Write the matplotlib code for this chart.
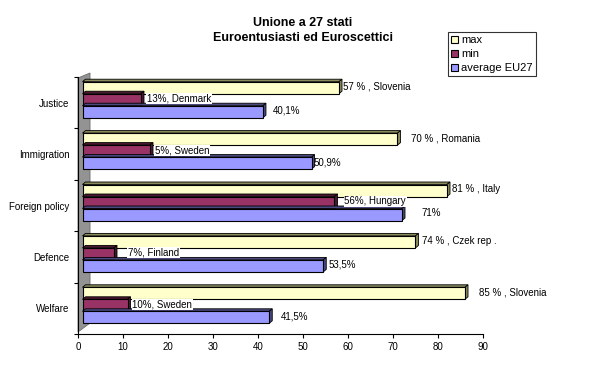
import matplotlib
matplotlib.use("Agg")
import matplotlib.pyplot as plt
from matplotlib.patches import Polygon, Patch
from matplotlib.transforms import ScaledTranslation

# ---- data ----
categories = ["Justice", "Immigration", "Foreign policy", "Defence", "Welfare"]
max_vals = [57, 70, 81, 74, 85]
min_vals = [13, 15, 56, 7, 10]
avg_vals = [40.1, 50.9, 71, 53.5, 41.5]
max_labels = ["57 % , Slovenia", "70 % , Romania", "81 % , Italy", "74 % , Czek rep .", "85 % , Slovenia"]
min_labels = ["13%, Denmark", "5%, Sweden", "56%, Hungary", "7%, Finland", "10%, Sweden"]
avg_labels = ["40,1%", "50,9%", "71%", "53,5%", "41,5%"]
series_names = ["max", "min", "average EU27"]
x_ticks = [0, 10, 20, 30, 40, 50, 60, 70, 80, 90]

# ---- style ----
colors = ["#FFFFCC", "#993366", "#9999FF"]
side_colors = ["#8a8a5c", "#4a1830", "#4a4a80"]
label_dx_px = [[4, 14, 5, 7, 14], [6, 5, 10, 14, 5], [10, 2, 19, 5, 12]]
FONT = "Liberation Sans"
plt.rcParams["font.family"] = [FONT, "DejaVu Sans"]

W, H, DPI = 601, 373, 100
fig = plt.figure(figsize=(W / DPI, H / DPI), dpi=DPI)
ax = fig.add_axes([78 / W, 1 - 334 / H, (483 - 78) / W, (334 - 77) / H])
ax.set_xlim(0, 90)
ax.set_ylim(4.5, -0.5)

px_x = 405 / 90.0          # pixels per x unit
px_y = 257 / 5.0           # pixels per category
shift = ScaledTranslation(4.5 / DPI, 3 / DPI, fig.dpi_scale_trans)
tr = ax.transData + shift

# left wall
wall = Polygon([(0, -0.5 + 1 / px_y), (2.67, -0.5 - 4 / px_y),
                (2.67, 4.5 - 11 / px_y), (0, 4.5 - 2 / px_y)],
               closed=True, facecolor="#939393", edgecolor="#6a6a6a",
               linewidth=0.6, clip_on=False, zorder=1)
ax.add_patch(wall)

bh = 12 / px_y
offsets = [-bh, 0, bh]
ddx = 3 / px_x
ddy = 2.5 / px_y
series = [max_vals, min_vals, avg_vals]
labels = [max_labels, min_labels, avg_labels]

for s, (vals, col, scol, off) in enumerate(zip(series, colors, side_colors, offsets)):
    for i, v in enumerate(vals):
        yc = i + off
        yt, yb = yc - bh / 2, yc + bh / 2
        # top face
        ax.add_patch(Polygon([(0, yt), (ddx, yt - ddy), (v + ddx, yt - ddy), (v, yt)],
                             closed=True, facecolor=scol, edgecolor="black",
                             linewidth=0.6, transform=tr, clip_on=False, zorder=2 + s))
        # side face
        ax.add_patch(Polygon([(v, yt), (v + ddx, yt - ddy), (v + ddx, yb - ddy), (v, yb)],
                             closed=True, facecolor=scol, edgecolor="black",
                             linewidth=0.6, transform=tr, clip_on=False, zorder=2 + s))
    ax.barh([i + off for i in range(len(vals))], vals, height=bh, color=col,
            edgecolor="black", linewidth=0.8, transform=tr, zorder=2 + s,
            clip_on=False, label=series_names[s])
    for i, v in enumerate(vals):
        t = ax.transData + ScaledTranslation((4.5 + label_dx_px[s][i]) / DPI, 4 / DPI,
                                             fig.dpi_scale_trans)
        kw = {}
        if s == 1:
            kw["bbox"] = dict(facecolor="white", edgecolor="none", pad=0.4)
        ax.text(v, i + off, labels[s][i], transform=t, fontsize=7, ha="left",
                va="center", zorder=10, clip_on=False, **kw)

# axes styling
for sp in ["top", "right"]:
    ax.spines[sp].set_visible(False)
ax.spines["bottom"].set_linewidth(0.8)
ax.spines["left"].set_linewidth(0.8)
ax.set_xticks(x_ticks)
ax.set_xticklabels([str(t) for t in x_ticks], fontsize=7)
ax.tick_params(axis="x", length=3, width=0.8, pad=3)
ax.set_yticks(range(len(categories)))
ax.set_yticklabels(categories, fontsize=7)
ax.tick_params(axis="y", which="major", length=0, pad=6)
ax.set_yticks([k - 0.5 for k in range(len(categories) + 1)], minor=True)
ax.tick_params(axis="y", which="minor", length=3, width=0.8)
ax.set_facecolor("white")

fig.text(303 / W, 1 - 23 / H, "Unione a 27 stati", ha="center", va="center",
         fontsize=9, fontweight="bold")
fig.text(303 / W, 1 - 38 / H, "Euroentusiasti ed Euroscettici", ha="center",
         va="center", fontsize=9, fontweight="bold")

handles = [Patch(facecolor=c, edgecolor="black", linewidth=0.8) for c in colors]
leg = fig.legend(handles, series_names, loc="upper left",
                 bbox_to_anchor=(448 / W, 1 - 32 / H), fontsize=8,
                 frameon=True, fancybox=False, edgecolor="black",
                 handlelength=0.6, handleheight=0.6, handletextpad=0.3,
                 borderpad=0.3, labelspacing=0.35, borderaxespad=0)
leg.get_frame().set_linewidth(0.8)

fig.savefig("out.png", dpi=DPI)
